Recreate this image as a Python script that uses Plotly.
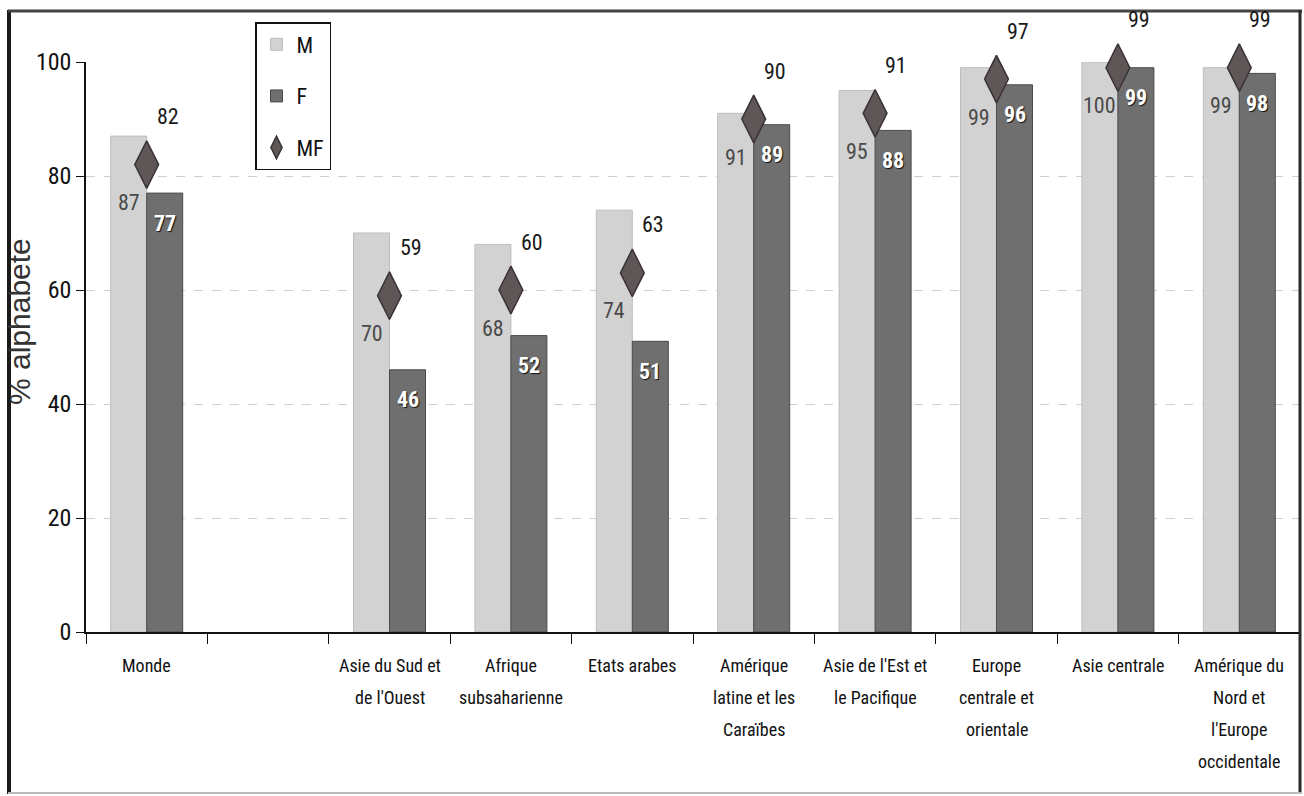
import plotly.graph_objects as go

categories = ["Monde", " ", "Asie du Sud et<br>de l'Ouest", "Afrique<br>subsaharienne", "Etats arabes",
              "Amérique<br>latine et les<br>Caraïbes", "Asie de l'Est et<br>le Pacifique",
              "Europe<br>centrale et<br>orientale", "Asie centrale",
              "Amérique du<br>Nord et<br>l'Europe<br>occidentale"]
m_vals = [87, None, 70, 68, 74, 91, 95, 99, 100, 99]
f_vals = [77, None, 46, 52, 51, 89, 88, 96, 99, 98]
mf_vals = [82, None, 59, 60, 63, 90, 91, 97, 99, 99]
y_ticks = [0, 20, 40, 60, 80, 100]

FONT = "Liberation Sans Narrow, Arial Narrow, Roboto Condensed, Roboto, Liberation Sans, sans-serif"
FONT_W = "Liberation Sans, Arial, sans-serif"

W, H = 1304, 796
L, R, T, B = 86, 4, 62, 164
pw, ph = W - L - R, H - T - B

def px(x):
    return (x - L) / pw

def py(y):
    return (H - B - y) / ph

fig = go.Figure()
fig.add_trace(go.Bar(
    x=categories, y=m_vals, name="M", legendgroup="M",
    marker=dict(color="#d2d2d2", line=dict(color="#bdbdbd", width=1)),
))
fig.add_trace(go.Bar(
    x=categories, y=f_vals, name="F", legendgroup="F",
    marker=dict(color="#6f6f6f", line=dict(color="#4a4a4a", width=1)),
))
fig.add_trace(go.Scatter(
    x=categories, y=mf_vals, mode="markers", name="MF", legendgroup="MF",
    marker=dict(symbol="diamond-tall", size=34, color="#5f5757",
                line=dict(color="#3a3333", width=1.5)),
    cliponaxis=False,
))

annotations = []
for cat, m, f, mf in zip(categories, m_vals, f_vals, mf_vals):
    if mf is not None:
        annotations.append(dict(x=cat, y=mf, text=str(mf), showarrow=False,
                                xshift=21, yshift=48,
                                font=dict(family=FONT, size=22, color="#1a1a1a")))
        annotations.append(dict(x=cat, y=mf, text=str(m), showarrow=False,
                                xshift=-18, yshift=-38,
                                font=dict(family=FONT, size=22, color="#4a4a4a")))
    if f is not None:
        annotations.append(dict(x=cat, y=f, text=str(f), showarrow=False,
                                xshift=18, yshift=-30,
                                font=dict(family=FONT, size=22, color="white", weight="bold",
                                          shadow="1px 1px 1px #111")))
    # category labels, line by line
    for i, line in enumerate(cat.split("<br>")):
        annotations.append(dict(x=cat, y=0, yref="y", text=line.strip() or "", showarrow=False,
                                yshift=-(33 + 32 * i), yanchor="middle",
                                font=dict(family=FONT, size=18, color="#111111")))

annotations.append(dict(text="% alphabete", xref="paper", yref="paper", x=px(19), y=py(322),
                        xanchor="center", yanchor="middle",
                        textangle=-90, showarrow=False,
                        font=dict(family=FONT_W, size=30, color="#333333")))

shapes = [
    dict(type="line", xref="paper", yref="paper", x0=px(9), x1=px(9), y0=py(10), y1=py(794),
         line=dict(color="#1a1a1a", width=4)),
    dict(type="line", xref="paper", yref="paper", x0=px(8), x1=px(1302), y0=py(11), y1=py(11),
         line=dict(color="#444444", width=3)),
    dict(type="line", xref="paper", yref="paper", x0=px(1300), x1=px(1300), y0=py(10), y1=py(794),
         line=dict(color="#2a2a2a", width=3)),
    dict(type="line", xref="paper", yref="paper", x0=px(8), x1=px(1302), y0=py(793), y1=py(793),
         line=dict(color="#bbbbbb", width=2)),
]

fig.update_layout(
    width=W, height=H,
    margin=dict(l=L, r=R, t=T, b=B),
    paper_bgcolor="white", plot_bgcolor="white",
    barmode="group", bargap=0.407, bargroupgap=0,
    font=dict(family=FONT, size=18, color="#111111"),
    showlegend=True,
    legend=dict(x=px(255), y=py(22), xanchor="left", yanchor="top",
                bgcolor="white", bordercolor="#111111", borderwidth=1.5,
                font=dict(family=FONT, size=22, color="#111111"),
                traceorder="grouped", tracegroupgap=20, itemwidth=30),
    xaxis=dict(type="category", range=[-0.5, len(categories) - 0.5],
               tickson="boundaries", ticks="outside", ticklen=10,
               tickcolor="#111111", showline=True, linecolor="#111111", linewidth=1.5,
               showgrid=False, showticklabels=False, automargin=False),
    yaxis=dict(range=[0, 100], tickvals=y_ticks, ticks="outside", ticklen=8,
               tickcolor="#111111", showline=True, linecolor="#111111", linewidth=1.5,
               showgrid=True, gridcolor="#cfcfcf", griddash="dash", gridwidth=1,
               zeroline=False, tickfont=dict(family=FONT, size=24, color="#111111"),
               automargin=False),
    annotations=annotations,
    shapes=shapes,
)

fig.write_html("out.html", config={"displayModeBar": False},
               post_script="document.body.style.margin='0';")
